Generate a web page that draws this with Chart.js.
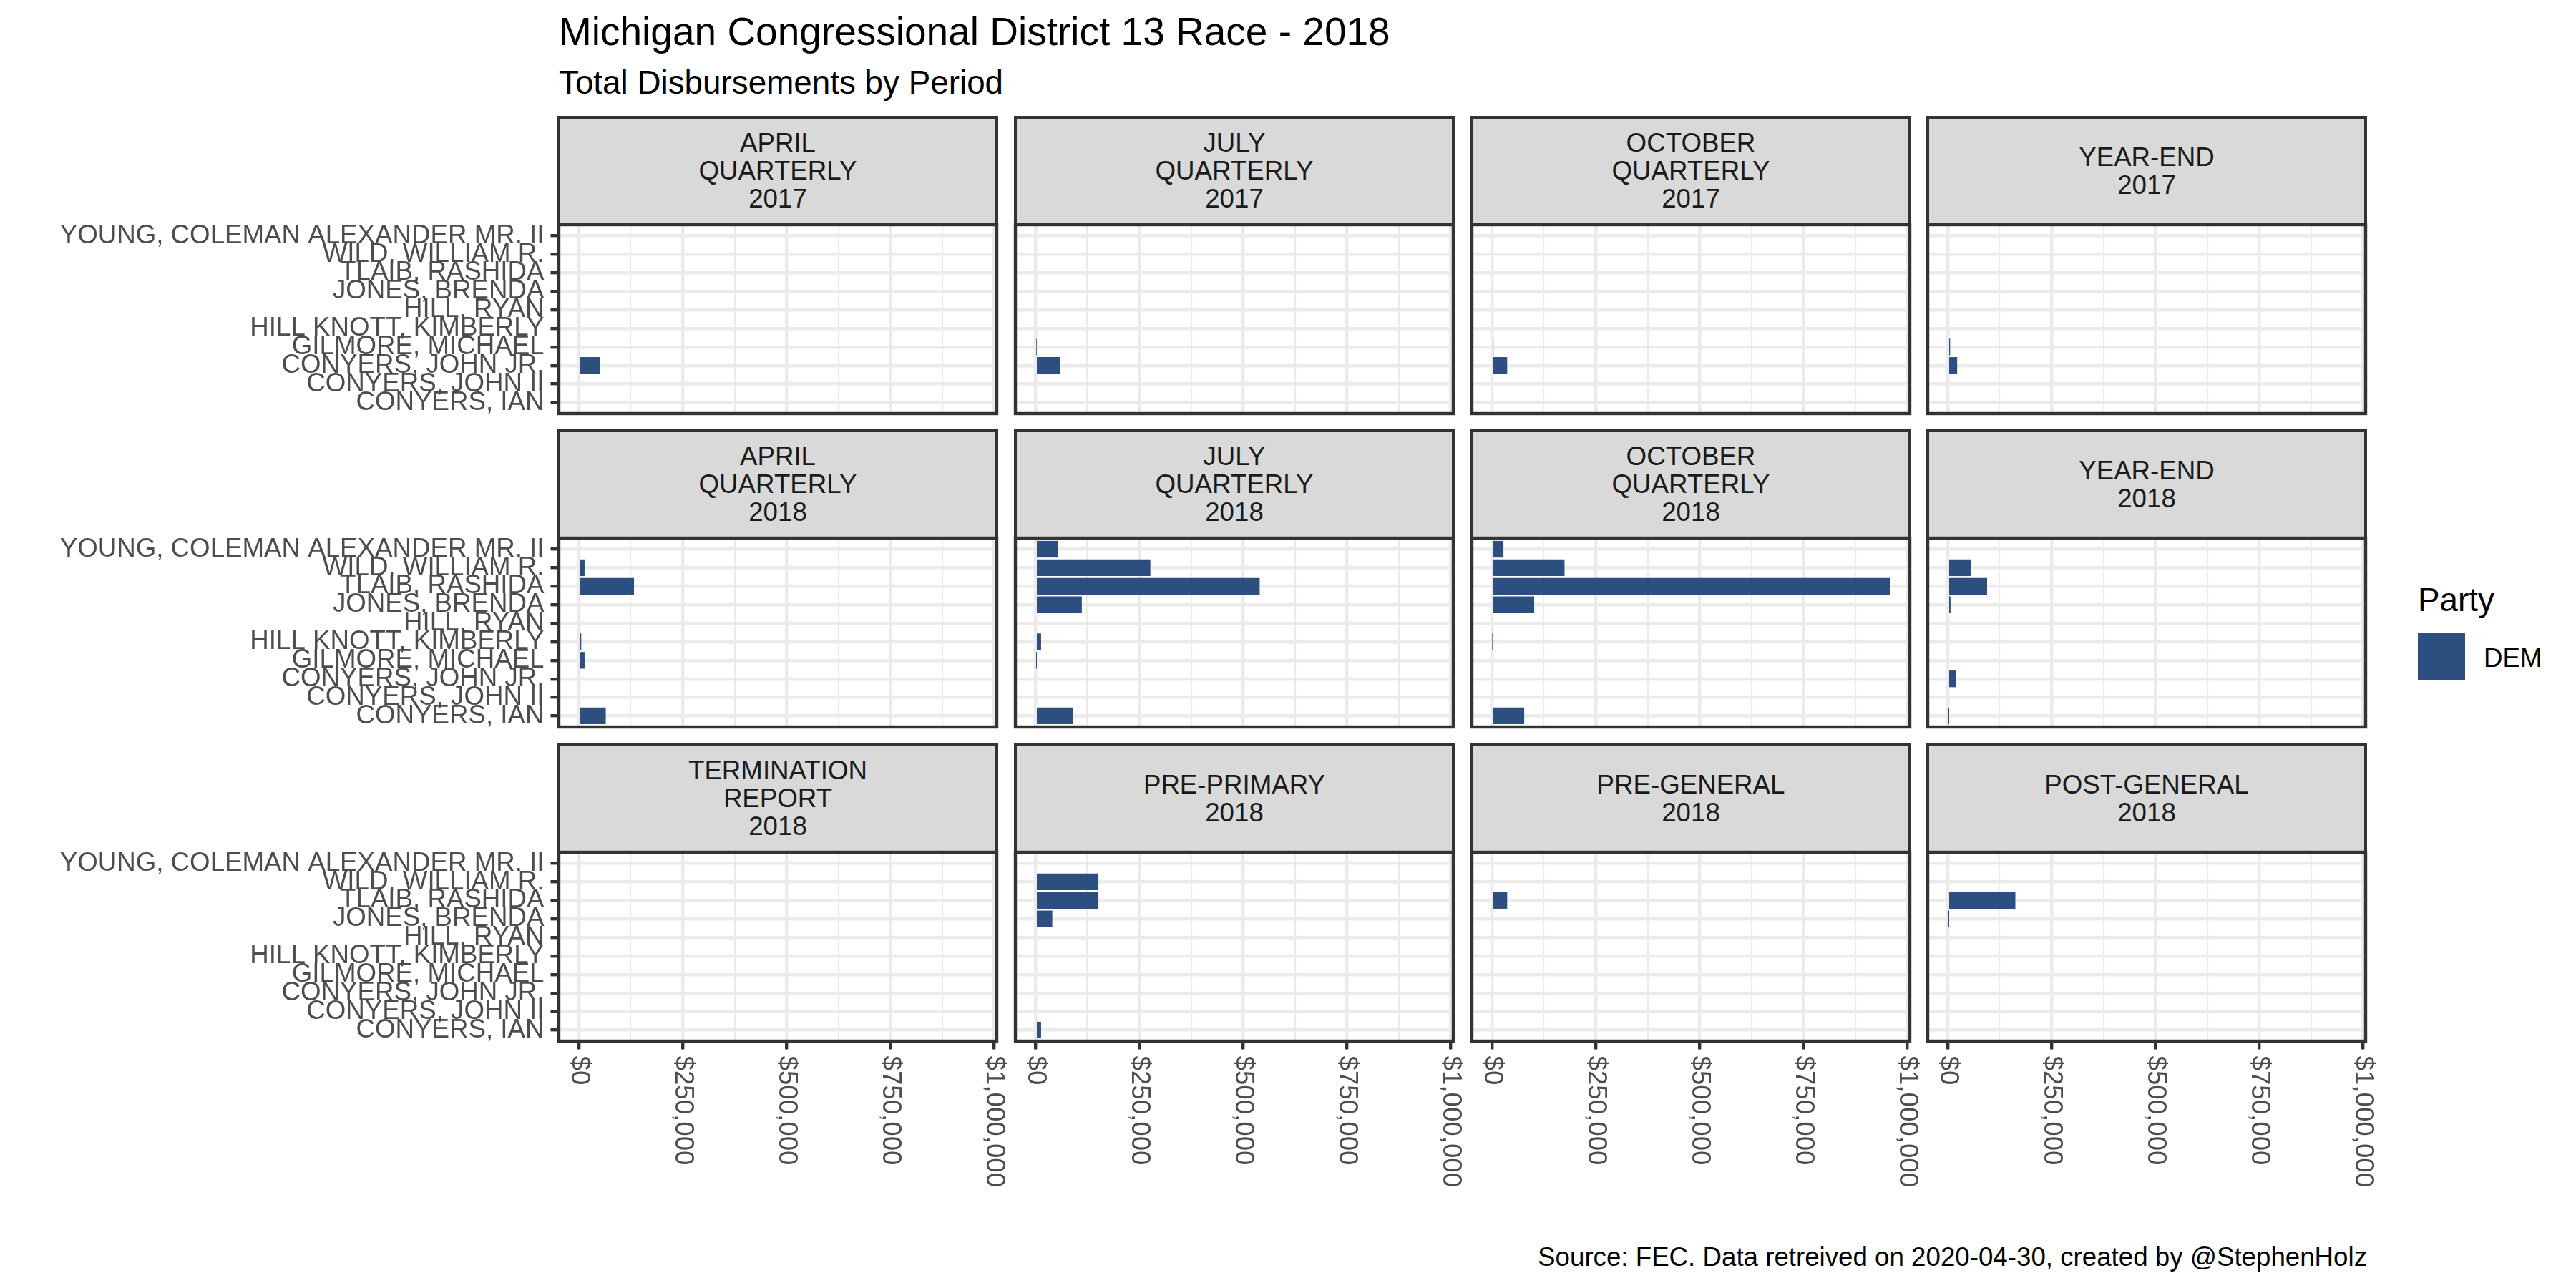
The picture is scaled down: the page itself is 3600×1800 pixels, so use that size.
<!DOCTYPE html>
<html>
<head>
<meta charset="utf-8">
<script src="https://cdn.jsdelivr.net/npm/chart.js@4.4.1/dist/chart.umd.min.js"></script>
<style>
  body { margin: 0; background: #fff; }
  #page { position: relative; width: 3600px; height: 1800px; background: #fff; overflow: hidden;
          font-family: "Liberation Sans", Arial, sans-serif; }
  .txt { position: absolute; white-space: nowrap; line-height: 1; }
  .strip { position: absolute; box-sizing: border-box; background: #d9d9d9; border: 4.4px solid #333;
           display: flex; align-items: center; justify-content: center; text-align: center;
           white-space: pre-line; color: #1a1a1a; font-size: 36.7px; line-height: 39px; }
  canvas { position: absolute; }
</style>
</head>
<body>
<div id="page"></div>
<script>
// candidates, bottom to top (same order as the y axis)
const candidates = [
  "CONYERS, IAN",
  "CONYERS, JOHN II",
  "CONYERS, JOHN JR.",
  "GILMORE, MICHAEL",
  "HILL KNOTT, KIMBERLY",
  "HILL, RYAN",
  "JONES, BRENDA",
  "TLAIB, RASHIDA",
  "WILD, WILLIAM R.",
  "YOUNG, COLEMAN ALEXANDER MR. II"
];

const periods = [
  "APRIL\nQUARTERLY\n2017", "JULY\nQUARTERLY\n2017", "OCTOBER\nQUARTERLY\n2017", "YEAR-END\n2017",
  "APRIL\nQUARTERLY\n2018", "JULY\nQUARTERLY\n2018", "OCTOBER\nQUARTERLY\n2018", "YEAR-END\n2018",
  "TERMINATION\nREPORT\n2018", "PRE-PRIMARY\n2018", "PRE-GENERAL\n2018", "POST-GENERAL\n2018"
];

// disbursements per candidate (null = no filing)
const april2017 = [null, null, 52000, null, null, null, null, null, null, null];
const july2017 = [null, null, 60000, 2500, null, null, null, null, null, null];
const october2017 = [null, null, 37000, 4000, null, null, null, null, null, null];
const yearEnd2017 = [null, null, 23000, 6000, null, null, null, null, null, null];
const april2018 = [65000, 3000, null, 14000, 6000, null, 3000, 133000, 14000, null];
const july2018 = [90000, null, null, 2000, 14000, null, 112000, 540000, 277000, 55000];
const october2018 = [78000, null, null, null, 1000, null, 102000, 958000, 175000, 28000];
const yearEnd2018 = [2000, null, 21000, null, null, null, 7000, 95000, 57000, null];
const termination2018 = [null, null, null, null, null, null, null, null, null, 3000];
const prePrimary2018 = [14000, null, null, null, null, null, 41000, 152000, 152000, null];
const preGeneral2018 = [null, null, null, null, null, null, null, 37000, null, null];
const postGeneral2018 = [null, null, null, null, null, null, 2000, 163000, null, null];

const periodValues = [
  april2017, july2017, october2017, yearEnd2017,
  april2018, july2018, october2018, yearEnd2018,
  termination2018, prePrimary2018, preGeneral2018, postGeneral2018
];

const xTickValues = [0, 250000, 500000, 750000, 1000000];
const xMinorValues = [125000, 375000, 625000, 875000];
const xTickLabels = ["$0", "$250,000", "$500,000", "$750,000", "$1,000,000"];
const party = "DEM";

const page = document.getElementById("page");
const FONT = '"Liberation Sans", Arial, sans-serif';
const BAR = "#2c4f80";

// layout of the facet grid
const colLeft = [781, 1419, 2057, 2694];
const rowTop = [164, 602, 1041];
const stripH = 150;
const plotW = 612;
const plotH = 264;
const M = 8;
const xAxisH = 240;
const extraRight = 30; // room for the last x label

// ggplot style expansion of 5% on both sides
const allValues = periodValues.flat().filter((v) => v != null);
const dataMax = Math.max(...allValues);
const xMin = -0.05 * dataMax;
const xMax = dataMax * 1.05;

const addText = (text, x, baseline, size, color, align) => {
  const el = document.createElement("div");
  el.className = "txt";
  el.textContent = text;
  el.style.fontSize = size + "px";
  el.style.color = color;
  el.style.top = baseline - 0.8465 * size + "px";
  if (align === "right") {
    el.style.right = 3600 - x + "px";
  } else {
    el.style.left = x + "px";
  }
  page.appendChild(el);
};

// titles, caption, legend
addText("Michigan Congressional District 13 Race - 2018", 781, 64, 55, "#000");
addText("Total Disbursements by Period", 781, 132, 45.8, "#000");
addText("Source: FEC. Data retreived on 2020-04-30, created by @StephenHolz", 3308, 1770, 36.7, "#000", "right");
addText("Party", 3379, 855, 45.8, "#000");
addText(party, 3471, 933, 36.7, "#000");
const key = document.createElement("div");
key.style.cssText = "position:absolute;left:3379px;top:885px;width:66px;height:66px;background:" + BAR;
page.appendChild(key);

// border round each panel
const panelBorder = {
  id: "panelBorder",
  afterDraw(chart) {
    const a = chart.chartArea;
    const ctx = chart.ctx;
    ctx.save();
    ctx.strokeStyle = "#333333";
    ctx.lineWidth = 4.4;
    ctx.strokeRect(a.left, a.top, a.right - a.left, a.bottom - a.top);
    ctx.restore();
  }
};

// x labels turned 90 degrees clockwise, like the original
const xLabels = {
  id: "xLabels",
  afterDraw(chart) {
    if (!chart.options.plugins.xLabels.show) return;
    const ctx = chart.ctx;
    const xs = chart.scales.x;
    ctx.save();
    ctx.fillStyle = "#4d4d4d";
    ctx.font = "36.7px " + FONT;
    ctx.textAlign = "left";
    ctx.textBaseline = "middle";
    xTickValues.forEach((v, i) => {
      ctx.save();
      ctx.translate(xs.getPixelForValue(v), chart.chartArea.bottom + 11.5 + 9);
      ctx.rotate(Math.PI / 2);
      ctx.fillText(xTickLabels[i], 0, 0);
      ctx.restore();
    });
    ctx.restore();
  }
};

periodValues.forEach((values, i) => {
  const r = Math.floor(i / 4);
  const c = i % 4;
  const left = colLeft[c];
  const top = rowTop[r];
  const isLeft = c === 0;
  const isBottom = r === 2;

  // strip
  const strip = document.createElement("div");
  strip.className = "strip";
  strip.textContent = periods[i];
  strip.style.left = left - 2.2 + "px";
  strip.style.top = top - 2.2 + "px";
  strip.style.width = plotW + 4.4 + "px";
  strip.style.height = stripH + 4.4 + "px";
  page.appendChild(strip);

  // panel canvas
  const plotTop = top + stripH;
  const padRight = M + (isBottom ? extraRight : 0);
  const cLeft = isLeft ? 0 : left - M;
  const cTop = plotTop - M;
  const w = left + plotW + padRight - cLeft;
  const h = M + plotH + (isBottom ? xAxisH : M);
  const canvas = document.createElement("canvas");
  canvas.width = w;
  canvas.height = h;
  canvas.style.left = cLeft + "px";
  canvas.style.top = cTop + "px";
  canvas.style.width = w + "px";
  canvas.style.height = h + "px";
  page.appendChild(canvas);

  const points = [];
  values.forEach((v, k) => {
    if (v != null) points.push({ x: v, y: k });
  });

  new Chart(canvas, {
    type: "bar",
    data: {
      datasets: [{
        label: party,
        data: points,
        backgroundColor: BAR,
        borderWidth: 0,
        barPercentage: 0.9,
        categoryPercentage: 1
      }]
    },
    options: {
      indexAxis: "y",
      responsive: false,
      animation: false,
      events: [],
      layout: { padding: { left: isLeft ? 0 : M, right: padRight, top: M, bottom: isBottom ? 0 : M } },
      plugins: {
        legend: { display: false },
        tooltip: { enabled: false },
        xLabels: { show: isBottom }
      },
      scales: {
        x: {
          type: "linear",
          min: xMin,
          max: xMax,
          offset: false,
          afterBuildTicks: (s) => {
            s.ticks = xTickValues.concat(xMinorValues).sort((a, b) => a - b).map((v) => ({ value: v }));
          },
          afterFit: (s) => {
            s.height = isBottom ? xAxisH : 0;
            s.paddingLeft = 0; s.paddingRight = 0; s.paddingTop = 0; s.paddingBottom = 0;
          },
          border: { display: false },
          grid: {
            offset: false,
            color: "#ebebeb",
            lineWidth: (ctx) => (ctx.tick && ctx.tick.value % 250000 === 0 ? 4.4 : 2.2),
            drawTicks: isBottom,
            tickLength: 11.5,
            tickWidth: 4.4,
            tickColor: (ctx) => (ctx.tick && ctx.tick.value % 250000 === 0 ? "#333333" : "rgba(0,0,0,0)")
          },
          ticks: { display: false }
        },
        y: {
          type: "linear",
          min: -0.6,
          max: candidates.length - 0.4,
          offset: false,
          afterBuildTicks: (s) => {
            s.ticks = candidates.map((_, k) => ({ value: k }));
          },
          afterFit: (s) => {
            s.width = isLeft ? left : 0;
            s.paddingLeft = 0; s.paddingRight = 0; s.paddingTop = 0; s.paddingBottom = 0;
          },
          border: { display: false },
          grid: {
            offset: false,
            color: "#ebebeb",
            lineWidth: 4.4,
            drawTicks: isLeft,
            tickLength: 11.5,
            tickWidth: 4.4,
            tickColor: "#333333"
          },
          ticks: {
            display: isLeft,
            autoSkip: false,
            padding: 9,
            color: "#4d4d4d",
            font: { family: FONT, size: 36.7 },
            callback: (v) => candidates[v]
          }
        }
      }
    },
    plugins: [panelBorder, xLabels]
  });
});
</script>
</body>
</html>
